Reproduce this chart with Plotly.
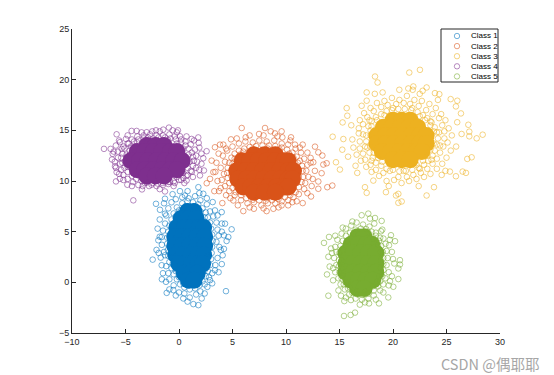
import plotly.graph_objects as go

class_names = ["Class 1", "Class 2", "Class 3", "Class 4", "Class 5"]
colors = ["#0072BD", "#D95319", "#EDB120", "#7E2F8E", "#77AC30"]
halo_alpha = 0.55

# Scattered points, (x, y)
class1_pts = [(-2.15,7.75),(-1.31,8.25),(0.09,9.0),(0.56,8.57),(1.81,9.39),(2.27,8.74),(3.15,7.92),(3.36,7.1),(3.99,6.93),(4.3,5.79),(4.92,5.23),(4.61,4.47),(4.2,4.64),(4.45,4.08),(3.77,3.49),(4.08,2.67),(-2.46,2.24),(-1.71,2.44),(-1.62,1.69),(-1.31,2.67),(-1.93,4.15),(-1.62,4.47),(-1.78,7.16),(-1.31,6.77),(-1.22,0.05),(-1.15,-1.04),(-0.53,-0.77),(0.4,-1.59),(1.34,-2.15),(1.81,-2.25),(2.12,-1.59),(2.65,-0.45),(4.39,-0.87),(2.9,0.21),(3.36,1.19),
 (-1.2,6.6),(-1.0,7.3),(-0.7,7.9),(-0.3,8.2),(0.3,8.4),(0.9,8.3),(1.5,8.5),(2.0,8.1),(2.6,7.7),(2.9,7.0),(3.2,6.5),(3.5,5.9),(3.6,5.2),(3.7,4.6),(3.5,4.0),(3.9,3.2),(3.6,2.4),(3.4,1.7),(3.1,0.9),(2.8,0.5),(2.4,-0.2),(2.0,-0.9),(1.6,-1.2),(1.0,-1.5),(0.5,-1.1),(0.0,-1.0),(-0.5,-0.3),(-0.9,0.3),(-1.0,0.9),(-1.2,1.6),(-1.4,3.0),(-1.6,3.7),(-1.8,4.5),(-1.5,5.1),(-1.3,5.8),
 (-1.8,6.2),(-2.0,5.3),(-2.1,3.2),(-1.9,2.9),(-1.5,0.9),(-1.6,0.3),(-0.9,-0.7),(-0.3,-1.3),(0.8,-1.9),(2.4,-1.1),(3.1,-0.1),(3.7,1.0),(4.0,1.8),(4.2,3.3),(4.0,5.0),(4.0,5.8),(3.6,6.6),(2.6,8.3),(1.9,8.8),(0.8,9.0),(-0.6,8.7),(-1.4,7.8)]
class1_rim = [(-0.2,7.4),(0.3,7.8),(0.8,8.0),(1.3,7.9),(1.8,7.7),(2.2,7.3),(2.5,6.9),(2.7,6.4),(2.9,5.9),(3.0,5.3),(3.1,4.7),(3.15,4.1),(3.1,3.5),(3.05,2.9),(3.0,2.3),(2.9,1.7),(2.7,1.1),(2.5,0.6),(2.2,0.1),(1.9,-0.3),(1.5,-0.6),(1.0,-0.7),(0.5,-0.5),(0.1,-0.2),(-0.2,0.3),(-0.5,0.8),(-0.7,1.4),(-0.9,2.0),(-1.0,2.6),(-1.05,3.2),(-1.1,3.8),(-1.1,4.4),(-1.0,5.0),(-0.9,5.6),(-0.7,6.2),(-0.5,6.8),
 (-0.3,6.5),(0.0,7.1),(0.6,7.5),(1.4,7.5),(2.0,7.0),(2.4,6.4),(2.6,5.7),(2.7,5.0),(2.8,4.2),(2.75,3.4),(2.7,2.6),(2.6,1.8),(2.4,1.2),(2.1,0.6),(1.6,0.0),(1.0,-0.3),(0.4,-0.1),(0.0,0.5),(-0.3,1.1),(-0.6,1.8),(-0.7,2.5),(-0.8,3.3),(-0.8,4.1),(-0.7,4.9),(-0.6,5.6)]
class2_pts = [(5.86,15.23),(8.04,15.23),(8.57,14.9),(9.59,14.9),(10.47,14.31),(9.66,14.31),(8.97,14.7),(7.48,14.64),(6.23,14.31),(4.86,14.11),(4.14,13.59),(3.36,13.33),(3.83,13.59),(3.05,12.01),(3.21,10.87),(2.9,10.21),(2.59,9.78),(3.3,9.0),(3.74,9.0),(4.05,7.82),(5.08,8.08),(6.01,7.03),(7.0,7.26),(8.19,7.03),(8.82,7.26),(9.59,7.59),(10.59,7.91),(11.56,7.82),(12.34,8.47),(13.02,9.23),(13.02,9.95),(13.86,9.39),(14.33,9.55),(13.33,10.77),(12.55,11.85),(13.49,11.62),(13.8,11.75),(13.4,12.51),(13.02,12.83),(12.71,13.39),(11.56,13.59),(10.84,13.59),(12.3,12.28),
 (4.5,13.0),(5.0,13.4),(5.6,13.7),(6.2,13.9),(6.9,13.8),(7.5,14.0),(8.2,13.9),(8.9,14.0),(9.6,13.7),(10.2,13.6),(10.9,13.2),(11.4,12.8),(11.7,12.2),(12.0,11.6),(11.9,11.0),(12.1,10.4),(11.8,9.8),(11.7,9.2),(11.2,8.7),(10.7,8.4),(10.2,8.1),(9.6,8.0),(9.0,7.8),(8.3,7.8),(7.7,7.6),(7.0,7.9),(6.4,7.8),(5.8,8.1),(5.2,8.6),(4.7,9.0),(4.3,9.5),(4.0,10.1),(4.2,10.7),(3.9,11.3),(4.3,11.9),(4.1,12.5),
 (4.4,13.2),(3.7,12.7),(3.5,11.8),(3.4,10.9),(3.6,10.0),(3.9,9.3),(4.4,8.6),(4.8,8.3),(5.5,7.6),(6.6,7.4),(7.9,7.3),(9.3,7.4),(10.2,7.6),(11.0,8.0),(12.0,8.8),(12.4,9.5),(12.5,10.2),(12.7,11.0),(12.3,11.8),(12.0,12.8),(11.3,13.3),(10.4,14.0),(9.2,14.4),(7.9,14.5),(6.6,14.5),(5.4,14.2)]
class2_rim = [(4.9,12.3),(5.2,12.7),(5.6,13.0),(6.1,13.2),(6.6,13.35),(7.2,13.45),(7.8,13.5),(8.4,13.5),(9.0,13.45),(9.6,13.3),(10.1,13.1),(10.6,12.8),(11.0,12.4),(11.3,12.0),(11.5,11.5),(11.55,11.0),(11.6,10.4),(11.45,9.9),(11.2,9.4),(10.9,8.9),(10.4,8.6),(9.9,8.4),(9.3,8.2),(8.7,8.1),(8.1,8.05),(7.5,8.1),(6.9,8.15),(6.3,8.3),(5.8,8.6),(5.3,8.9),(5.0,9.3),(4.7,9.8),(4.55,10.3),(4.5,10.8),(4.55,11.3),(4.7,11.8),
 (5.2,12.2),(5.7,12.6),(6.0,12.9),(10.3,12.7),(10.7,12.3),(11.1,11.8),(11.2,11.1),(11.2,10.4),(11.0,9.8),(10.7,9.3),(10.3,8.9),(5.9,9.0),(5.4,9.4),(5.1,9.9),(4.9,10.5),(4.9,11.1),(5.0,11.7),(7.0,13.1),(8.3,13.2),(9.4,13.1),(7.3,8.5),(8.5,8.4),(9.5,8.6)]
class3_pts = [(22.52,20.97),(21.52,20.7),(18.32,20.31),(18.56,19.72),(17.54,18.74),(19.03,18.74),(20.59,19.0),(21.43,19.13),(21.9,19.33),(21.84,19.0),(22.77,18.9),(23.14,19.23),(23.92,18.67),(24.33,18.57),(25.39,18.08),(26.01,17.92),(25.88,17.36),(26.35,16.67),(27.04,15.55),(26.41,14.64),(27.13,14.87),(27.13,14.41),(27.82,14.21),(28.38,14.57),(27.35,12.34),(26.94,12.18),(26.82,10.8),(26.51,10.93),(25.88,10.47),(25.32,10.93),(24.55,10.6),(23.83,9.39),(23.14,8.57),(20.5,8.73),(20.28,8.57),(20.81,7.98),(20.5,7.85),(19.34,8.9),(17.38,9.39),(17.54,8.83),(18.16,10.04),(16.66,10.8),(15.04,11.13),(14.67,11.85),(14.36,14.37),(15.26,13.09),(15.29,15.78),(15.67,17.19),(15.73,16.44),(17.07,17.42),(17.54,17.92),(15.36,14.14),
 (16.8,15.2),(16.9,16.0),(17.3,16.7),(17.9,17.2),(18.5,17.7),(19.2,17.9),(19.9,18.2),(20.6,18.0),(21.3,18.4),(22.0,18.0),(22.7,17.9),(23.4,17.6),(24.0,17.2),(24.5,16.6),(24.9,16.0),(25.2,15.2),(25.5,14.5),(25.1,13.8),(25.4,13.0),(25.0,12.3),(24.6,11.7),(24.1,11.2),(23.5,10.7),(22.9,10.4),(22.2,10.2),(21.5,10.0),(20.8,9.8),(20.1,10.1),(19.4,10.0),(18.7,10.5),(18.0,10.9),(17.5,11.4),(17.0,12.0),(16.6,12.6),(16.3,13.3),(16.2,14.1),(16.5,11.5),(16.1,15.5),(24.2,18.0),(26.0,15.8),(25.9,13.4),(15.8,12.4),(18.3,18.6),(22.5,18.6),(19.6,9.5),(22.4,9.5),(24.9,11.0),
 (17.2,14.6),(17.4,13.4),(24.3,14.8),(24.4,13.5),(17.8,16.0),(23.5,15.9),(23.6,12.1),(18.0,12.0),(20.0,17.2),(21.8,17.2),(21.0,11.0),(19.7,11.0),(22.5,11.2)]
class3_rim = [(17.7,15.4),(18.0,15.9),(18.4,16.3),(18.9,16.6),(19.4,16.9),(19.9,17.0),(20.5,17.1),(21.1,17.1),(21.7,17.0),(22.3,16.8),(22.8,16.5),(23.2,16.2),(23.6,15.8),(23.9,15.3),(24.1,14.8),(24.2,14.2),(24.1,13.6),(23.9,13.0),(23.7,12.5),(23.3,12.0),(22.9,11.6),(22.4,11.3),(21.8,11.1),(21.2,11.0),(20.6,10.95),(20.0,11.1),(19.4,11.2),(18.9,11.5),(18.4,11.8),(18.1,12.3),(17.8,12.8),(17.6,13.3),(17.5,13.9),(17.5,14.5),
 (18.0,15.4),(18.5,16.0),(19.2,16.5),(22.5,16.4),(23.0,16.0),(23.5,15.5),(23.8,14.9),(23.8,13.7),(23.5,13.1),(23.2,12.5),(22.8,12.0),(22.2,11.6),(19.0,11.9),(18.6,12.3),(18.2,12.8),(17.9,13.4),(17.9,14.5),(17.9,15.0),
 (16.9,13.9),(16.8,14.7),(17.2,15.6),(17.6,16.3),(18.2,16.9),(18.9,17.3),(19.5,17.5),(20.3,17.6),(21.0,17.7),(21.6,17.6),(22.4,17.4),(23.1,17.0),(23.7,16.6),(24.3,16.2),(24.6,15.5),(24.8,14.9),(24.8,14.2),(24.7,13.4),(24.4,12.8),(24.1,12.2),(23.7,11.7),(23.2,11.2),(22.6,10.8),(21.9,10.6),(21.3,10.4),(20.5,10.4),(19.1,10.8),(18.4,11.1),(17.9,11.6),(17.4,12.1),(17.2,12.7),(16.9,13.2)]
class4_pts = [(-7.01,13.17),(-6.39,13.17),(-5.83,14.61),(-6.2,12.68),(-6.26,12.12),(-5.98,11.46),(-5.83,10.87),(-5.89,9.96),(-5.52,10.22),(-4.83,9.63),(-4.27,8.09),(-3.46,9.17),(-2.56,9.63),(-1.31,8.97),(-0.84,9.9),(0.71,10.05),(1.96,10.55),(2.33,11.04),(2.58,12.94),(2.27,12.25),(1.8,14.3),(1.84,13.76),(1.18,14.15),(0.09,14.42),(-0.1,15.0),(-0.94,15.27),(-1.47,15.07),(-2.15,15.0),(-3.02,14.81),(-3.96,14.94),(-4.43,14.94),(-4.96,14.15),(-5.52,13.83),(-5.36,13.17),
 (-5.7,12.9),(-5.7,12.3),(-5.5,11.7),(-5.4,11.1),(-5.2,10.6),(-4.8,10.2),(-4.3,9.9),(-3.8,9.6),(-3.2,9.8),(-2.8,9.5),(-2.1,9.5),(-1.5,9.6),(-1.0,9.7),(-0.4,9.8),(0.2,10.1),(0.7,10.5),(1.2,10.9),(1.6,11.3),(1.7,11.9),(1.6,12.5),(1.5,13.1),(1.1,13.6),(0.6,13.9),(0.2,14.1),(-0.4,14.4),(-0.9,14.6),(-1.5,14.5),(-2.1,14.5),(-2.7,14.6),(-3.3,14.5),(-3.9,14.4),(-4.4,14.1),(-4.8,13.7),(-5.2,13.4),
 (-5.6,14.0),(-5.9,13.5),(-6.1,12.9),(-6.0,11.9),(-5.9,11.3),(-5.6,10.7),(-5.2,10.1),(-4.4,9.5),(-3.4,9.5),(-1.8,9.2),(-0.5,9.5),(0.5,9.8),(1.3,10.4),(1.9,11.1),(2.1,11.7),(2.1,12.7),(1.9,13.3),(1.4,14.0),(0.7,14.4),(-0.2,14.8),(-0.6,15.0),(-1.8,14.9),(-2.5,14.9),(-3.5,14.8),(-4.8,14.5)]
class4_rim = [(-4.7,13.7),(-4.2,13.9),(-3.8,14.1),(-3.3,14.2),(-2.9,14.3),(-2.4,14.2),(-1.9,14.3),(-1.3,14.3),(-0.8,14.2),(-0.3,14.1),(0.2,13.8),(0.6,13.5),(0.9,13.2),(1.2,12.8),(1.3,12.4),(1.4,12.0),(1.3,11.5),(1.1,11.0),(0.8,10.6),(0.4,10.3),(0.0,10.1),(-0.5,9.95),(-1.0,9.9),(-1.5,9.8),(-2.0,9.75),(-2.5,9.8),(-3.0,9.85),(-3.5,10.0),(-4.0,10.2),(-4.4,10.5),(-4.8,10.9),(-5.1,11.3),(-5.3,11.8),(-5.4,12.3),(-5.3,12.7),(-5.1,13.2),
 (-4.5,13.4),(-3.9,13.8),(-3.0,14.0),(-2.2,14.0),(-1.0,14.0),(-0.2,13.7),(0.4,13.2),(0.9,12.6),(1.0,11.9),(0.8,11.3),(0.4,10.8),(-0.2,10.4),(-1.0,10.2),(-1.9,10.1),(-2.8,10.1),(-3.6,10.4),(-4.3,10.8),(-4.8,11.4),(-5.0,12.0),(-4.9,12.6),(-4.6,13.0)]
class5_pts = [(17.07,6.62),(17.69,6.78),(17.85,6.29),(18.32,6.35),(18.94,6.06),(18.25,5.8),(18.88,5.04),(19.81,4.65),(20.19,4.06),(19.1,4.32),(19.63,3.66),(20.65,2.19),(20.65,1.76),(20.5,1.37),(20.12,1.86),(20.5,0.32),(20.03,-0.44),(19.72,0.12),(19.56,-1.49),(18.69,-2.08),(17.76,-2.08),(17.38,-1.98),(16.45,-2.99),(16.04,-3.22),(15.42,-3.32),(13.96,-1.32),(13.83,0.78),(14.08,1.56),(13.96,2.52),(14.21,3.34),(13.55,3.89),(14.02,4.48),(15.14,-1.32),(15.45,-1.85),(16.07,-1.75),
 (14.6,3.5),(14.8,4.2),(15.2,4.8),(15.6,5.3),(16.1,5.6),(16.6,5.9),(17.2,5.7),(17.8,5.5),(18.4,4.9),(18.8,4.4),(19.3,3.8),(19.4,3.1),(19.5,2.4),(19.4,1.7),(19.6,1.0),(19.3,0.4),(19.1,-0.2),(18.8,-0.8),(18.2,-1.3),(17.7,-1.6),(17.1,-1.7),(16.5,-1.6),(15.9,-1.2),(15.5,-0.7),(15.1,-0.2),(14.9,0.4),(14.6,1.0),(14.7,1.7),(14.5,2.4),(14.7,3.0),
 (14.4,0.2),(14.4,1.4),(14.3,2.9),(14.6,4.6),(15.3,5.4),(16.2,6.0),(19.0,5.2),(19.7,4.2),(19.9,3.0),(20.0,2.3),(19.9,0.6),(19.6,-0.3),(19.1,-1.0),(18.4,-1.7),(16.9,-2.2),(15.6,-1.5),(14.9,-0.8)]
class5_rim = [(15.1,3.6),(15.3,4.1),(15.6,4.6),(16.0,4.9),(16.5,5.2),(17.0,5.3),(17.5,5.25),(18.0,5.0),(18.4,4.6),(18.7,4.1),(18.9,3.6),(19.05,3.0),(19.1,2.4),(19.1,1.8),(19.1,1.2),(19.0,0.6),(18.8,0.1),(18.6,-0.4),(18.2,-0.8),(17.7,-1.1),(17.2,-1.25),(16.7,-1.2),(16.2,-1.05),(15.8,-0.6),(15.4,-0.2),(15.2,0.4),(15.0,1.0),(14.95,1.6),(14.95,2.2),(15.0,2.9),
 (15.3,3.2),(15.7,4.1),(16.3,4.8),(17.7,4.9),(18.2,4.3),(18.6,3.7),(18.8,3.0),(18.85,2.2),(18.85,1.4),(18.7,0.6),(18.5,0.1),(18.1,-0.4),(15.6,0.0),(15.3,0.7),(15.2,1.4),(15.2,2.2),(16.0,-0.5),(16.6,-0.9),(17.4,-0.9)]

# Dense, solid middle of each cloud: sample positions
class1_core = [(0.8,7.0),(1.4,7.0),(0.2,6.3),(0.9,6.3),(1.6,6.3),(-0.2,5.4),(0.5,5.4),(1.2,5.4),(1.9,5.4),(2.3,5.4),(-0.4,4.5),(0.3,4.5),(1.0,4.5),(1.7,4.5),(2.4,4.5),(-0.4,3.6),(0.3,3.6),(1.0,3.6),(1.7,3.6),(2.4,3.6),(-0.3,2.7),(0.4,2.7),(1.1,2.7),(1.8,2.7),(2.3,2.7),(0.0,1.8),(0.6,1.8),(1.2,1.8),(1.8,1.8),(2.2,1.8),(0.5,0.9),(1.1,0.9),(1.7,0.9),(0.9,0.2),(1.4,0.2)]
class2_core = [(7.0,12.6),(8.0,12.6),(9.0,12.6),(5.9,12.0),(6.6,12.0),(7.4,12.0),(8.2,12.0),(9.0,12.0),(9.8,12.0),(10.2,12.0),(5.4,11.0),(6.2,11.0),(7.0,11.0),(7.8,11.0),(8.6,11.0),(9.4,11.0),(10.2,11.0),(10.7,11.0),(5.5,10.2),(6.3,10.2),(7.1,10.2),(7.9,10.2),(8.7,10.2),(9.5,10.2),(10.2,10.2),(10.6,10.2),(6.0,9.4),(6.7,9.4),(7.5,9.4),(8.3,9.4),(9.1,9.4),(9.9,9.4),(10.2,9.4),(7.0,8.9),(8.0,8.9),(9.0,8.9)]
class3_core = [(20.0,16.0),(20.8,16.0),(21.6,16.0),(19.1,15.3),(19.9,15.3),(20.7,15.3),(21.5,15.3),(22.3,15.3),(18.5,14.5),(19.3,14.5),(20.1,14.5),(20.9,14.5),(21.7,14.5),(22.5,14.5),(23.1,14.5),(18.5,13.7),(19.3,13.7),(20.1,13.7),(20.9,13.7),(21.7,13.7),(22.5,13.7),(23.1,13.7),(19.0,12.9),(19.8,12.9),(20.6,12.9),(21.4,12.9),(22.2,12.9),(22.7,12.9),(20.0,12.1),(20.8,12.1),(21.6,12.1)]
class4_core = [(-3.0,13.5),(-2.2,13.5),(-1.4,13.5),(-3.9,12.9),(-3.2,12.9),(-2.4,12.9),(-1.6,12.9),(-0.8,12.9),(-0.2,12.9),(-4.5,12.0),(-3.7,12.0),(-2.9,12.0),(-2.1,12.0),(-1.3,12.0),(-0.5,12.0),(0.3,12.0),(-3.9,11.1),(-3.2,11.1),(-2.4,11.1),(-1.6,11.1),(-0.8,11.1),(-0.2,11.1),(-3.0,10.5),(-2.2,10.5),(-1.4,10.5)]
class5_core = [(16.7,4.5),(17.3,4.5),(16.1,3.75),(16.8,3.75),(17.5,3.75),(18.0,3.75),(15.6,2.9),(16.3,2.9),(17.0,2.9),(17.7,2.9),(18.4,2.9),(15.6,1.85),(16.3,1.85),(17.0,1.85),(17.7,1.85),(18.4,1.85),(15.6,1.0),(16.3,1.0),(17.0,1.0),(17.7,1.0),(18.4,1.0),(16.1,0.2),(16.8,0.2),(17.5,0.2),(18.1,0.2),(16.7,-0.6),(17.3,-0.6)]

all_pts = [class1_pts + class1_rim, class2_pts + class2_rim, class3_pts + class3_rim, class4_pts + class4_rim, class5_pts + class5_rim]
all_core = [class1_core, class2_core, class3_core, class4_core, class5_core]
x_ticks = [-10, -5, 0, 5, 10, 15, 20, 25, 30]
y_ticks = [-5, 0, 5, 10, 15, 20, 25]
watermark = "CSDN @偶耶耶"

FONT = "Liberation Sans, Arial, sans-serif"


def rgba(hex_color, a):
    r, g, b = int(hex_color[1:3], 16), int(hex_color[3:5], 16), int(hex_color[5:7], 16)
    return f"rgba({r},{g},{b},{a})"


# The page body adds an 8 px margin around the figure
PAGE = 8
W, H = 554 - PAGE, 375 - PAGE
L, R, T, B = 72 - PAGE, 54, 29 - PAGE, 42
PW, PH = W - L - R, H - T - B


def px(v):
    return (v - 72) / PW


def py(v):
    return (333 - v) / PH


fig = go.Figure()
for name, col, pts, core in zip(class_names, colors, all_pts, all_core):
    fig.add_trace(go.Scatter(
        x=[p[0] for p in core], y=[p[1] for p in core], mode="markers", name=name + " core",
        showlegend=False, hoverinfo="skip",
        marker=dict(symbol="circle", size=17, color=col, line=dict(width=0))))
    fig.add_trace(go.Scatter(
        x=[p[0] for p in pts], y=[p[1] for p in pts], mode="markers", name=name,
        showlegend=False, cliponaxis=False,
        marker=dict(symbol="circle-open", size=5.6, color=rgba(col, halo_alpha), line=dict(width=1, color=rgba(col, halo_alpha)))))

# Compact key in the style of the reference
shapes = [dict(type="rect", xref="paper", yref="paper", x0=px(441), x1=px(498), y0=py(82), y1=py(29),
               line=dict(color="#262626", width=1), fillcolor="white", layer="above")]
annotations = []
for i, (name, col) in enumerate(zip(class_names, colors)):
    yy = 36 + i * 10.1
    shapes.append(dict(type="circle", xref="paper", yref="paper", xsizemode="pixel", ysizemode="pixel",
                       xanchor=px(457), yanchor=py(yy), x0=-2.7, x1=2.7, y0=-2.7, y1=2.7,
                       line=dict(color=rgba(col, 0.55), width=1), layer="above"))
    annotations.append(dict(xref="paper", yref="paper", x=px(471), y=py(yy), text=name, showarrow=False,
                            xanchor="left", yanchor="middle", font=dict(family=FONT, size=8, color="#000"), borderpad=0, borderwidth=0))
annotations.append(dict(xref="paper", yref="paper", x=px(541), y=py(363), text=watermark, showarrow=False,
                        xanchor="right", yanchor="middle",
                        font=dict(family="Noto Sans CJK SC, Noto Sans, sans-serif", size=14.5, color="#a6a6a6")))

axis = dict(showgrid=False, zeroline=False, showline=True, linecolor="#262626", linewidth=1,
            ticks="inside", ticklen=4, tickcolor="#262626", tickwidth=1,
            tickfont=dict(family=FONT, size=9, color="#262626"))
fig.update_layout(
    width=W, height=H, margin=dict(l=L, r=R, t=T, b=B, pad=0), showlegend=False,
    paper_bgcolor="white", plot_bgcolor="white", shapes=shapes, annotations=annotations,
    xaxis=dict(range=[-10, 30], tickvals=x_ticks, **axis),
    yaxis=dict(range=[-5, 25], tickvals=y_ticks, **axis),
)
fig.write_html("out.html", config=dict(displayModeBar=False))
